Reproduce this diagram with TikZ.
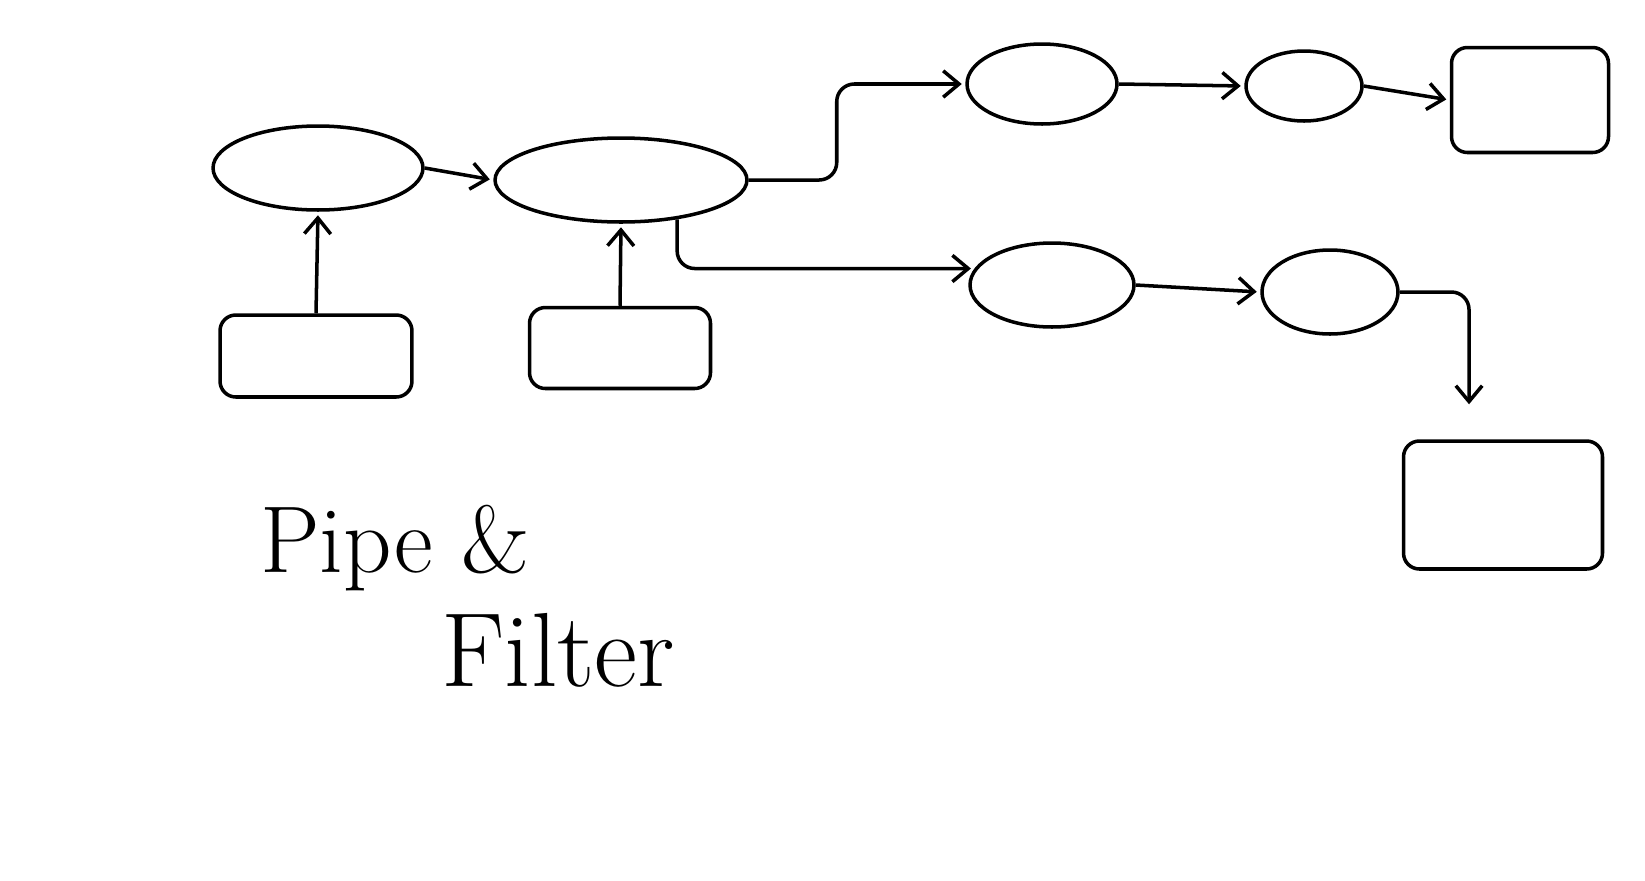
\documentclass[tikz,border=0pt]{standalone}
\usepackage{tikz}
\usetikzlibrary{shapes.geometric,arrows.meta,positioning,calc}

\tikzset{
    filter/.style={draw, ellipse, line width=2pt, inner sep=0pt},
    store/.style={draw, rectangle, rounded corners=9pt, line width=2pt, inner sep=0pt},
    pipe/.style={line width=2pt, -{Straight Barb[length=9pt,width=15pt]}, rounded corners=10pt, shorten >=2pt},
    hand/.style={font=\fontsize{54}{60}\selectfont}
}

\begin{document}
\begin{tikzpicture}[x=0.02cm, y=-0.02cm]
    \useasboundingbox (0,0) rectangle (1645,880);

    % Filters
    \node[filter, minimum width=4.2cm, minimum height=1.68cm] (f1) at (318,168) {};
    \node[filter, minimum width=5.04cm, minimum height=1.68cm] (f2) at (621,180) {};
    \node[filter, minimum width=3.0cm, minimum height=1.6cm] (f3) at (1042,84) {};
    \node[filter, minimum width=2.32cm, minimum height=1.4cm] (f4) at (1304,86) {};
    \node[filter, minimum width=3.28cm, minimum height=1.68cm] (f5) at (1052,285) {};
    \node[filter, minimum width=2.72cm, minimum height=1.68cm] (f6) at (1330,292) {};

    % Sources and sinks
    \node[store, minimum width=3.84cm, minimum height=1.64cm] (src1) at (316,356) {};
    \node[store, minimum width=3.62cm, minimum height=1.62cm] (src2) at (620,348) {};
    \node[store, minimum width=3.14cm, minimum height=2.1cm] (sink1) at (1530,100) {};
    \node[store, minimum width=3.98cm, minimum height=2.56cm] (sink2) at (1503,505) {};

    % Pipes
    \draw[pipe] (src1.north) -- (f1.south);
    \draw[pipe] (src2.north) -- (f2.south);
    \draw[pipe] (f1.east) -- (f2.west);
    \draw[pipe] (f2.east) -- ++(88,0) |- (f3.west);
    \draw[pipe] (f2.-35) |- (f5.168);
    \draw[pipe] (f3.east) -- (f4.west);
    \draw[pipe] (f4.east) -- (sink1.west);
    \draw[pipe] (f5.east) -- (f6.west);
    \draw[pipe, shorten >=0.7cm] (f6.east) -| ($(sink2.north)+(-34,0)$);

    % Title
    \node[hand] (title1) at (395,548) {Pipe \&};
    \node[hand, font=\fontsize{60}{66}\selectfont] (title2) at (558,650) {Filter};
\end{tikzpicture}
\end{document}
